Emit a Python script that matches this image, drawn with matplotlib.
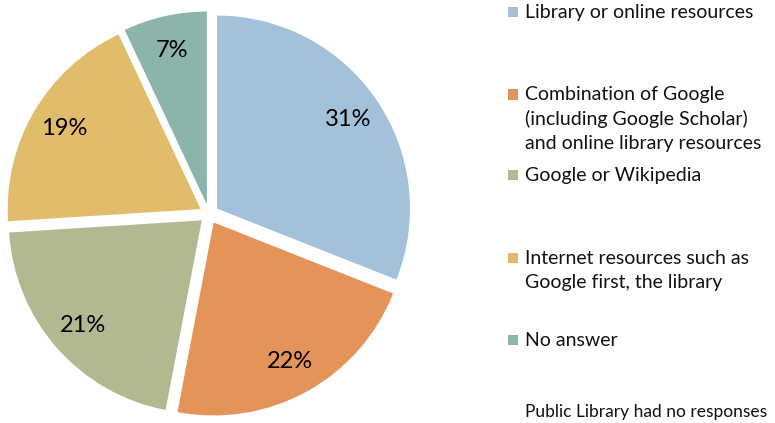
import matplotlib.pyplot as plt
import matplotlib.patches as mpatches

# Survey answers: where students look first for research material
categories = [
    "Library or online resources",
    "Combination of Google\n(including Google Scholar)\nand online library resources",
    "Google or Wikipedia",
    "Internet resources such as\nGoogle first, the library",
    "No answer",
]
shares = [31, 22, 21, 19, 7]
colors = ["#A3C1DA", "#E49359", "#B4B891", "#E1BC6B", "#8BB4AB"]
note = "Public Library had no responses"

# vertical centre (pixels from top) of each legend entry
legend_y = [12.5, 119, 175, 270.5, 340]
line_px = 24.5

W, H = 775, 423
fig = plt.figure(figsize=(W / 100, H / 100), dpi=100)
plt.rcParams["font.family"] = ["Lato", "DejaVu Sans"]

# pie axes: centre at (209, 214) px, radius 193 px
cx, cy, r = 209, 214, 193
lim = 1.1
half = r * lim
ax = fig.add_axes([(cx - half) / W, (H - cy - half) / H, 2 * half / W, 2 * half / H])
wedges, texts, autotexts = ax.pie(
    shares,
    colors=colors,
    startangle=90,
    counterclock=False,
    explode=[0.05] * len(shares),
    autopct="%1.0f%%",
    pctdistance=0.82,
    wedgeprops=dict(linewidth=0),
    textprops=dict(fontsize=17, color="black"),
)
ax.set_xlim(-lim, lim)
ax.set_ylim(-lim, lim)
ax.set_aspect("equal")
ax.axis("off")

# hand-placed legend on the right
for label, color, y in zip(categories, colors, legend_y):
    nlines = label.count("\n") + 1
    first = y - (nlines - 1) * line_px / 2
    fig.patches.append(mpatches.Rectangle(
        (508 / W, 1 - (first + 5) / H), 10 / W, 10 / H,
        transform=fig.transFigure, facecolor=color, edgecolor="none"))
    fig.text(525 / W, 1 - y / H, label, fontsize=14, va="center", ha="left",
             linespacing=1.48, color="#111111")

fig.text(525 / W, 1 - 412 / H, note, fontsize=12.5, va="center", ha="left",
         color="#111111")

fig.savefig("out.png", dpi=100, facecolor="white")
